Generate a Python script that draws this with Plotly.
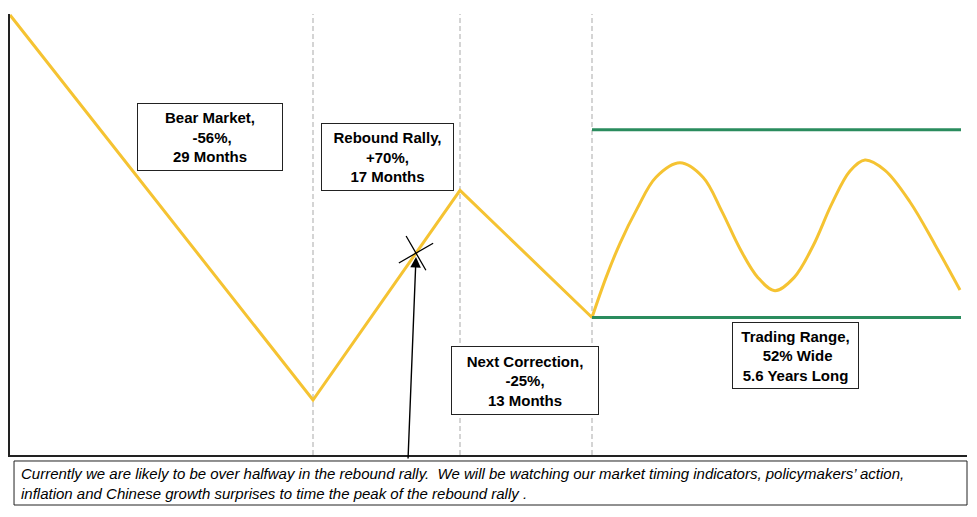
import plotly.graph_objects as go

# ---- data ----
# stylised time position (x) and index level (start = 100)
phase_x = [0, 303, 450, 582]          # start, bear bottom, rally peak, correction low
phase_level = [100, 44, 74.5, 56]

range_x = [582, 596, 610, 627, 646, 670, 693, 712, 730, 748, 765, 784,
           803, 822, 840, 855, 875, 900, 925, 950]
range_level = [56, 61.8, 66.8, 71.8, 76.4, 78.5, 76.4, 71.4, 66.0, 61.8, 59.9, 61.8,
               66.4, 72.6, 77.3, 78.9, 77.4, 72.8, 66.6, 60.0]

range_low = 56
range_high = 83.3
range_span = [582, 951]

current_x = [406]
current_level = [65.37]

boundaries = [303, 450, 582]

labels = [
    "<b>Bear Market,<br> -56%,<br>29 Months</b>",
    "<b>Rebound Rally,<br>+70%,<br>17 Months</b>",
    "<b>Next Correction,<br>-25%,<br>13 Months</b>",
    "<b>Trading Range,<br> 52% Wide<br>5.6 Years Long</b>",
]

note = ("<i>Currently we are likely to be over halfway in the rebound rally.  We will be watching our "
        "market timing indicators, policymakers\u2019 action,<br>inflation and Chinese growth surprises "
        "to time the peak of the rebound rally .</i>")

YELLOW = "#F5C332"
GREEN = "#2A8C5E"
FONT = "Arial, Liberation Sans, sans-serif"

fig = go.Figure()

fig.add_trace(go.Scatter(x=phase_x, y=phase_level, mode="lines",
                         line=dict(color=YELLOW, width=3), hoverinfo="skip"))
fig.add_trace(go.Scatter(x=range_x, y=range_level, mode="lines",
                         line=dict(color=YELLOW, width=3, shape="spline", smoothing=1),
                         hoverinfo="skip"))
for lvl in (range_high, range_low):
    fig.add_trace(go.Scatter(x=range_span, y=[lvl, lvl], mode="lines",
                             line=dict(color=GREEN, width=3), hoverinfo="skip"))

fig.add_trace(go.Scatter(x=current_x, y=current_level, mode="markers",
                         marker=dict(symbol="x-thin", size=28, angle=15,
                                     line=dict(color="black", width=1.3)),
                         hoverinfo="skip"))

for bx in boundaries:
    fig.add_shape(type="line", xref="x", yref="paper", x0=bx, x1=bx, y0=0, y1=1,
                  line=dict(color="#BDBDBD", width=1.3, dash="5px,3px"), layer="below")

# label boxes
box_pos = [(200, 82.25, 136, 58), (377.5, 79.35, 123, 58),
           (515, 46.87, 138, 59), (785.5, 50.47, 117, 57)]
for txt, (bx, by, w, h) in zip(labels, box_pos):
    fig.add_annotation(x=bx, y=by, xref="x", yref="y", text=txt, showarrow=False,
                       font=dict(family=FONT, size=15, color="black"),
                       align="center", width=w, height=h, valign="middle",
                       bordercolor="#222222", borderwidth=1, borderpad=4,
                       bgcolor="white")

# arrow to current position
fig.add_annotation(x=current_x[0], y=64.8, xref="x", yref="y",
                   ax=398, ay=35.27, axref="x", ayref="y", text="",
                   showarrow=True, arrowhead=2, arrowsize=1.5, arrowwidth=1.4,
                   arrowcolor="black", standoff=0)

# bottom note box
fig.add_shape(type="rect", xref="paper", yref="paper", x0=0.0042, x1=1.0,
              y0=-0.0136, y1=-0.1134, line=dict(color="#222222", width=1),
              fillcolor="white")
fig.add_annotation(x=0.0105, y=-0.0635, xref="paper", yref="paper",
                   xanchor="left", yanchor="middle", text=note, showarrow=False,
                   font=dict(family=FONT, size=15, color="black"),
                   align="left", borderpad=0)

fig.update_xaxes(range=[0, 957], showgrid=False, zeroline=False, showticklabels=False,
                 ticks="", showline=True, linecolor="#222222", linewidth=1.5)
fig.update_yaxes(range=[36.0, 100.15], showgrid=False, zeroline=False, showticklabels=False,
                 ticks="", showline=True, linecolor="#222222", linewidth=1.5)

fig.update_layout(width=977, height=517, margin=dict(l=10, r=10, t=14, b=62),
                  plot_bgcolor="white", paper_bgcolor="white", showlegend=False)

fig.write_html("out.html", config={"displayModeBar": False},
               post_script="document.body.style.margin='0';")
